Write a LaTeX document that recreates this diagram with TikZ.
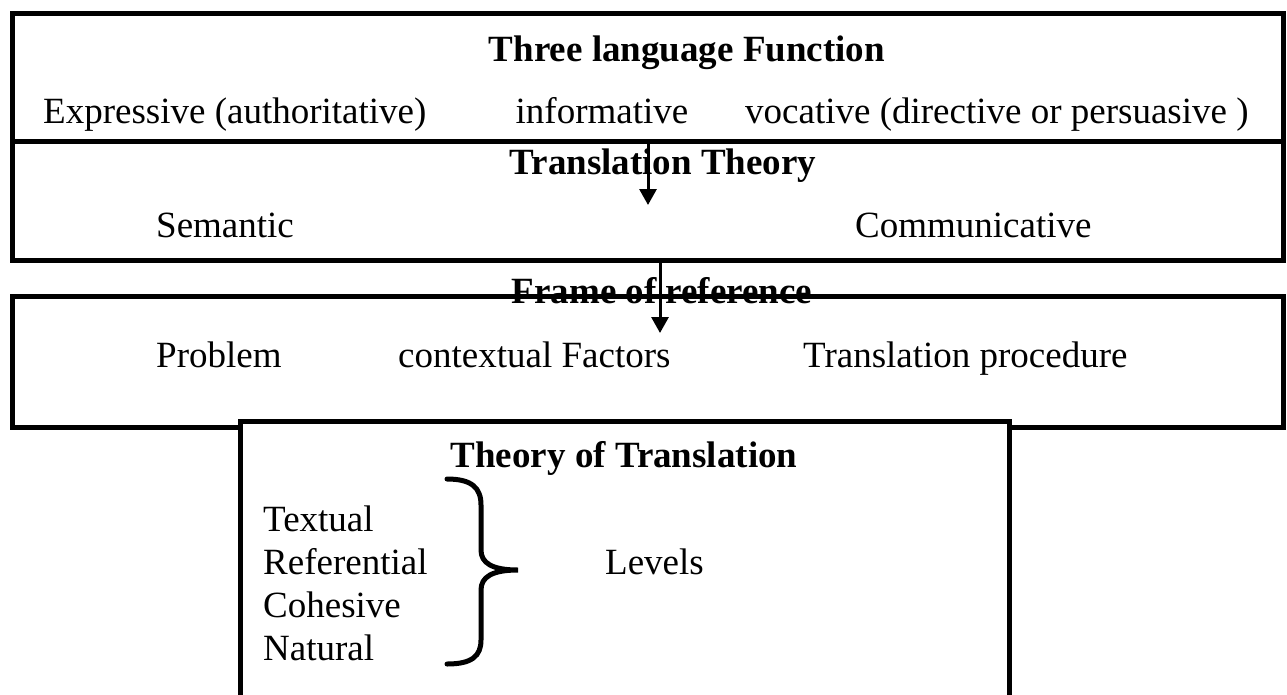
\documentclass[tikz,border=0pt]{standalone}
\usepackage{fontspec}
\setmainfont{Liberation Serif}
\usetikzlibrary{arrows.meta}
\begin{document}
\begin{tikzpicture}[x=1pt,y=-1pt,
  boxline/.style={draw, line width=5pt, inner sep=0pt, outer sep=0pt, anchor=north west},
  txt/.style={inner sep=0pt, font=\fontsize{37}{44}\selectfont},
  head/.style={inner sep=0pt, font=\fontsize{37}{44}\selectfont\bfseries},
  flow/.style={line width=3pt, -{Triangle[length=16pt,width=17pt]}},
  bracepath/.style={line width=5pt, line cap=round}]
\clip (0,0) rectangle (1287,694);
\fill[white] (0,0) rectangle (1287,694);
% box 1 and 2
\node[boxline, minimum width=1271pt, minimum height=128pt] (b1) at (12,13) {};
\node[boxline, minimum width=1271pt, minimum height=119pt] (b2) at (12,141) {};
% texts of box 1
\node[head, anchor=base] (t1) at (687,61) {Three language Function};
\node[txt, anchor=base west] (e1) at (43,123) {Expressive (authoritative)};
\node[txt, anchor=base] (e2) at (602,123) {informative};
\node[txt, anchor=base west] (e3) at (745,123) {vocative (directive or persuasive )};
% texts of box 2
\node[head, anchor=base] (t2) at (663,174) {Translation Theory};
\node[txt, anchor=base west] (s1) at (156,237) {Semantic};
\node[txt, anchor=base west] (s2) at (855,237) {Communicative};
% frame of reference title (struck by box 3 top line)
\node[head, anchor=base] (t3) at (662,303) {Frame of reference};
\node[boxline, minimum width=1271pt, minimum height=131pt] (b3) at (12,296) {};
\node[txt, anchor=base west] (p1) at (156,367) {Problem};
\node[txt, anchor=base west] (p2) at (398,367) {contextual Factors};
\node[txt, anchor=base west] (p3) at (803,367) {Translation procedure};
% box 4
\node[boxline, fill=white, minimum width=769pt, minimum height=320pt] (b4) at (240,421) {};
\node[head, anchor=base] (t4) at (624,467) {Theory of Translation};
\node[txt, anchor=base west] (l1) at (263,531) {Textual};
\node[txt, anchor=base west] (l2) at (263,574) {Referential};
\node[txt, anchor=base west] (l3) at (263,617) {Cohesive};
\node[txt, anchor=base west] (l4) at (263,660) {Natural};
\node[txt, anchor=base west] (lv) at (605,574) {Levels};
% brace
\draw[bracepath] (447,479) .. controls (472,479) and (481,488) .. (481,505)
  -- (481,550) .. controls (481,563) and (492,570) .. (518,570)
  .. controls (492,570) and (481,577) .. (481,590)
  -- (481,640) .. controls (481,656) and (472,664) .. (447,664);
% arrows
\coordinate (a1) at (648,205);
\coordinate (a2) at (660,333);
\draw[flow] (b1.south -| a1) -- (a1);
\draw[flow] (b2.south -| a2) -- (a2);
\end{tikzpicture}
\end{document}
